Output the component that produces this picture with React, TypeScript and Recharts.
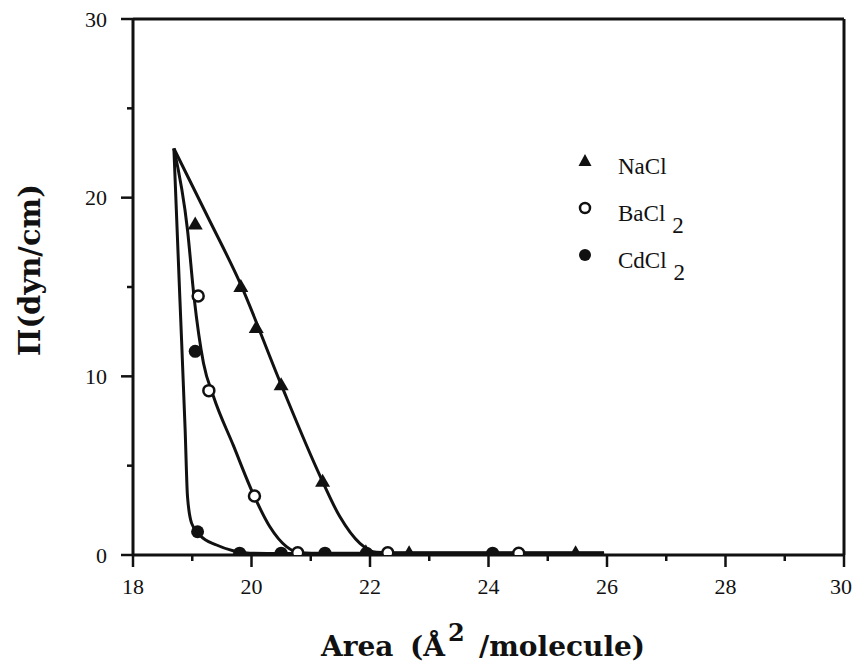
import React from 'react';
import { ComposedChart, Line, Scatter, XAxis, YAxis, ReferenceLine } from 'recharts';

// Axis ticks
const xTicks = [18, 19, 20, 21, 22, 23, 24, 25, 26, 27, 28, 29, 30];
const xTickLabels = [18, 20, 22, 24, 26, 28, 30];
const yTicks = [0, 5, 10, 15, 20, 25, 30];
const yTickLabels = [0, 10, 20, 30];

// Measured points
const naclX = [19.05, 19.82, 20.08, 20.5, 21.2, 21.93, 22.66, 25.47];
const naclY = [18.5, 15.0, 12.7, 9.5, 4.1, 0.15, 0.1, 0.1];
const baclX = [19.1, 19.28, 20.05, 20.78, 22.3, 24.51];
const baclY = [14.5, 9.2, 3.3, 0.12, 0.12, 0.1];
const cdclX = [19.05, 19.09, 19.8, 20.5, 21.24, 21.94, 24.07];
const cdclY = [11.4, 1.3, 0.1, 0.1, 0.1, 0.1, 0.1];

// Fitted curves (traced)
const naclCurveX = [18.69, 19.25, 19.81, 20.48, 21.16, 21.49, 21.83, 22.11, 22.5, 25.95];
const naclCurveY = [22.75, 19.0, 15.2, 9.7, 4.4, 2.15, 0.65, 0.15, 0.12, 0.12];
const baclCurveX = [18.69, 18.92, 19.03, 19.19, 19.36, 19.69, 20.05, 20.31, 20.59, 20.82, 21.2, 25.95];
const baclCurveY = [22.75, 18.19, 14.45, 10.73, 8.86, 6.16, 3.26, 1.58, 0.47, 0.13, 0.1, 0.1];
const cdclCurveX = [18.69, 18.79, 18.88, 18.92, 18.99, 19.13, 19.41, 19.69, 19.97, 20.5, 25.95];
const cdclCurveY = [22.75, 14.45, 7.0, 3.26, 1.77, 1.1, 0.56, 0.24, 0.1, 0.08, 0.08];

const zip = (xs: number[], ys: number[]) => xs.map((x, i) => ({ x, y: ys[i] }));

const INK = '#111';
const SERIF = '"Liberation Serif", "Times New Roman", serif';
const WIDE_SERIF = '"DejaVu Serif", serif';

const XTick = (props: any) => {
  const { x, y, payload } = props;
  const v = payload.value;
  const major = xTickLabels.includes(v);
  const isLast = v === xTicks[xTicks.length - 1];
  return (
    <g>
      <line x1={x} x2={x} y1={y} y2={y + (major ? 12 : 6)} stroke={INK} strokeWidth={2.5} />
      {major && (
        <text
          x={isLast ? x + 8 : x}
          y={y + 31}
          textAnchor={isLast ? 'end' : 'middle'}
          dominantBaseline="central"
          fontFamily={SERIF}
          fontSize={22}
          fill={INK}
        >
          {v}
        </text>
      )}
    </g>
  );
};

const YTick = (props: any) => {
  const { x, y, payload } = props;
  const v = payload.value;
  const major = yTickLabels.includes(v);
  return (
    <g>
      <line x1={x - (major ? 12 : 6)} x2={x} y1={y} y2={y} stroke={INK} strokeWidth={2.5} />
      {major && (
        <text x={x - 26} y={y} textAnchor="end" dominantBaseline="central" fontFamily={SERIF} fontSize={22} fill={INK}>
          {v}
        </text>
      )}
    </g>
  );
};

const XTitle = (props: any) => {
  const vb = props.viewBox || { x: 125, y: 547, width: 711 };
  const base = vb.y + 101;
  return (
    <text y={base} fontFamily={WIDE_SERIF} fontWeight="bold" fontSize={28} fill={INK}>
      <tspan x={313}>Area</tspan>
      <tspan x={402}>(Å</tspan>
      <tspan x={440} dy={-15} fontSize={24}>2</tspan>
      <tspan x={471} dy={15}>/molecule)</tspan>
    </text>
  );
};

const YTitle = () => (
  <text x={22} y={262} textAnchor="middle" dominantBaseline="central" transform="rotate(-90 22 262)" fontFamily={WIDE_SERIF} fontWeight="bold" fontSize={29} fill={INK}>
    Π(dyn/cm)
  </text>
);

const Triangle = (props: any) => {
  const { cx, cy } = props;
  return <polygon points={`${cx},${cy - 8} ${cx - 7.5},${cy + 5} ${cx + 7.5},${cy + 5}`} fill={INK} />;
};
const OpenCircle = (props: any) => {
  const { cx, cy } = props;
  return <circle cx={cx} cy={cy} r={5.5} fill="#fff" stroke={INK} strokeWidth={2.5} />;
};
const FilledCircle = (props: any) => {
  const { cx, cy } = props;
  return <circle cx={cx} cy={cy} r={6.5} fill={INK} />;
};

const legendItems = [
  { name: 'NaCl', sub: '', kind: 'tri' },
  { name: 'BaCl', sub: '2', kind: 'open' },
  { name: 'CdCl', sub: '2', kind: 'fill' },
];

const LegendBox = () => (
  <svg width={140} height={160} style={{ position: 'absolute', left: 567, top: 131 }}>
    {legendItems.map((it, i) => {
      const cy = 22 + i * 47;
      return (
        <g key={it.name}>
          {it.kind === 'tri' && <polygon points={`10,${cy - 7} ${3.5},${cy + 5} ${16.5},${cy + 5}`} fill={INK} />}
          {it.kind === 'open' && <circle cx={10} cy={cy} r={5} fill="#fff" stroke={INK} strokeWidth={2.5} />}
          {it.kind === 'fill' && <circle cx={10} cy={cy} r={6} fill={INK} />}
          <text x={43} y={cy + 13} fontFamily={SERIF} fontSize={23} fill={INK}>
            {it.name}
            {it.sub && <tspan dx={7} dy={12}>{it.sub}</tspan>}
          </text>
        </g>
      );
    })}
  </svg>
);

export default function App() {
  return (
    <div style={{ position: 'relative', width: 853, height: 655 }}>
      <ComposedChart width={853} height={655} margin={{ top: 11, right: 17, left: 0, bottom: 0 }}>
        <XAxis
          type="number"
          dataKey="x"
          domain={[18, 30]}
          ticks={xTicks}
          interval={0}
          allowDataOverflow
          tickSize={0}
          tickMargin={0}
          tickLine={false}
          axisLine={{ stroke: INK, strokeWidth: 3 }}
          tick={<XTick />}
          height={108}
          label={{ content: (p: any) => <XTitle {...p} /> }}
        />
        <YAxis
          type="number"
          dataKey="y"
          domain={[0, 30]}
          ticks={yTicks}
          interval={0}
          allowDataOverflow
          tickSize={0}
          tickMargin={0}
          tickLine={false}
          axisLine={{ stroke: INK, strokeWidth: 3 }}
          tick={<YTick />}
          width={125}
          label={{ content: () => <YTitle /> }}
        />
        <ReferenceLine y={30} stroke={INK} strokeWidth={3} />
        <ReferenceLine x={30} stroke={INK} strokeWidth={3} />
        <Line data={zip(naclCurveX, naclCurveY)} dataKey="y" type="monotone" stroke={INK} strokeWidth={3} dot={false} isAnimationActive={false} />
        <Line data={zip(baclCurveX, baclCurveY)} dataKey="y" type="monotone" stroke={INK} strokeWidth={3} dot={false} isAnimationActive={false} />
        <Line data={zip(cdclCurveX, cdclCurveY)} dataKey="y" type="monotone" stroke={INK} strokeWidth={3} dot={false} isAnimationActive={false} />
        <Scatter data={zip(naclX, naclY)} dataKey="y" shape={<Triangle />} isAnimationActive={false} />
        <Scatter data={zip(cdclX, cdclY)} dataKey="y" shape={<FilledCircle />} isAnimationActive={false} />
        <Scatter data={zip(baclX, baclY)} dataKey="y" shape={<OpenCircle />} isAnimationActive={false} />
      </ComposedChart>
      <LegendBox />
    </div>
  );
}
